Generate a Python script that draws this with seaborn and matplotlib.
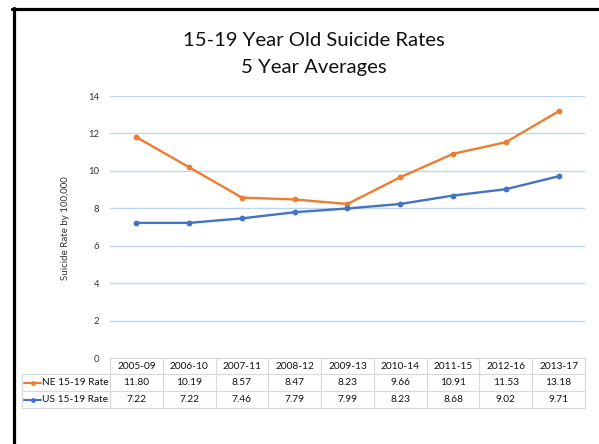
import matplotlib
matplotlib.use("Agg")
import matplotlib.pyplot as plt
import matplotlib.transforms as mtransforms
from matplotlib.lines import Line2D
import seaborn as sns
import pandas as pd

periods = ["2005-09", "2006-10", "2007-11", "2008-12", "2009-13",
           "2010-14", "2011-15", "2012-16", "2013-17"]
ne_rate = [11.80, 10.19, 8.57, 8.47, 8.23, 9.66, 10.91, 11.53, 13.18]
us_rate = [7.22, 7.22, 7.46, 7.79, 7.99, 8.23, 8.68, 9.02, 9.71]
series_names = ["NE 15-19 Rate", "US 15-19 Rate"]
y_ticks = [0, 2, 4, 6, 8, 10, 12, 14]
title_lines = ["15-19 Year Old Suicide Rates", "5 Year Averages"]
y_label = "Suicide Rate by 100,000"

colors = {"NE 15-19 Rate": "#ED7D31", "US 15-19 Rate": "#4472C4"}

sns.set_theme(style="white")
plt.rcParams['font.family'] = ['Lato', 'DejaVu Sans']

W, H = 599, 444
fig = plt.figure(figsize=(W / 100, H / 100), dpi=100)
fig.patch.set_facecolor("white")


def fy(py):
    return 1 - py / H


def fx(px):
    return px / W


ax_left, ax_right, ax_top, ax_bot = 110, 585, 96, 358
ax = fig.add_axes([fx(ax_left), fy(ax_bot), (ax_right - ax_left) / W, (ax_bot - ax_top) / H])

idx = list(range(len(periods)))
df = pd.DataFrame({
    "x": idx + idx,
    "rate": ne_rate + us_rate,
    "series": [series_names[0]] * len(periods) + [series_names[1]] * len(periods),
})
sns.lineplot(data=df, x="x", y="rate", hue="series", palette=colors,
             marker="o", markersize=4.2, markeredgewidth=0, linewidth=1.7,
             ax=ax, legend=False)

ax.set_xlim(-0.5, len(periods) - 0.5)
ax.set_ylim(0, 14)
ax.set_yticks(y_ticks)
ax.set_yticklabels([str(t) for t in y_ticks])
ax.set_xticks([])
ax.set_xlabel("")
ax.set_ylabel("")
for s in ax.spines.values():
    s.set_visible(False)
ax.tick_params(axis="y", length=0, labelsize=6.8, pad=8, colors="#333333")
for t in y_ticks[1:]:
    ax.axhline(t, color="#BDD7EE", lw=1, zorder=0)
ax.set_facecolor("white")

# Title
fig.text(fx(314), fy(40), title_lines[0], ha="center", va="center", fontsize=14.6, color="#111111")
fig.text(fx(314), fy(68), title_lines[1], ha="center", va="center", fontsize=14.6, color="#111111")

# y label
fig.text(fx(66), fy(228), y_label, rotation=90, ha="center", va="center", fontsize=7, color="#333333")

# Data table
trans = mtransforms.blended_transform_factory(ax.transData, fig.transFigure)
grid_c = "#D9D9D9"
row_lines = [358, 374, 391, 408]
n = len(periods)
fig.add_artist(Line2D([-0.5, n - 0.5], [fy(358)] * 2, transform=trans, color=grid_c, lw=0.8))
for py in row_lines[1:]:
    fig.add_artist(Line2D([fx(22), fx(ax_right)], [fy(py)] * 2, transform=fig.transFigure, color=grid_c, lw=0.8))
for i in range(n + 1):
    fig.add_artist(Line2D([i - 0.5, i - 0.5], [fy(358), fy(408)], transform=trans, color=grid_c, lw=0.8))
fig.add_artist(Line2D([fx(22), fx(22)], [fy(374), fy(408)], transform=fig.transFigure, color=grid_c, lw=0.8))

row_centers = [366, 382.5, 399.5]
tsize = 7.3
for i, p in enumerate(periods):
    fig.text(0, 0, p, transform=trans, fontsize=tsize, ha="center", va="center", color="#111111").set_position((i, fy(row_centers[0])))
for r, vals in enumerate([ne_rate, us_rate]):
    yc = fy(row_centers[r + 1])
    for i, v in enumerate(vals):
        t = fig.text(0, 0, f"{v:.2f}", transform=trans, fontsize=tsize, ha="center", va="center", color="#111111")
        t.set_position((i, yc))
    name = series_names[r]
    fig.add_artist(Line2D([fx(24), fx(41)], [yc, yc], transform=fig.transFigure,
                          color=colors[name], lw=1.5))
    fig.add_artist(Line2D([fx(32.5)], [yc], transform=fig.transFigure, marker="o",
                          markersize=3.5, markeredgewidth=0, color=colors[name]))
    fig.text(fx(41.5), yc, name, ha="left", va="center", fontsize=tsize, color="#111111")

# black frame (top and left)
fig.add_artist(Line2D([fx(12), 1.0], [fy(9.5), fy(9.5)], transform=fig.transFigure, color="black", lw=2.3))
fig.add_artist(Line2D([fx(13.5), fx(13.5)], [fy(8.5), 0.0], transform=fig.transFigure, color="black", lw=2.3))

fig.savefig("out.png", dpi=100, facecolor="white")
